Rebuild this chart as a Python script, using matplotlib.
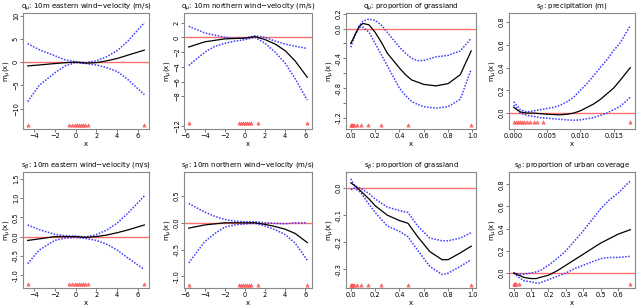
import matplotlib.pyplot as plt

# panel titles
titles = [
    r"q$_\mu$: 10m eastern wind$-$velocity (m/s)",
    r"q$_\mu$: 10m northern wind$-$velocity (m/s)",
    r"q$_\mu$: proportion of grassland",
    r"s$_\beta$: precipitation (m)",
    r"s$_\beta$: 10m eastern wind$-$velocity (m/s)",
    r"s$_\beta$: 10m northern wind$-$velocity (m/s)",
    r"s$_\beta$: proportion of grassland",
    r"s$_\beta$: proportion of urban coverage",
]

# ---- x grids ----
x_east = [-4.6, -3.5, -2, -1, 0, 1, 2, 3, 4, 5, 6.6]
x_north = [-5.6, -4, -3, -2, -1, 0, 1, 2, 3, 4, 5, 6.2]
x_grass = [0, 0.03, 0.07, 0.1, 0.15, 0.2, 0.25, 0.3, 0.4, 0.45, 0.5, 0.55, 0.6, 0.7, 0.8, 0.9, 0.99]
x_prec = [0, 0.001, 0.002, 0.003, 0.004, 0.005, 0.006, 0.007, 0.008, 0.009, 0.010, 0.011,
          0.012, 0.013, 0.014, 0.015, 0.016, 0.0175]
x_grass2 = [0, 0.03, 0.08, 0.15, 0.2, 0.3, 0.4, 0.47, 0.55, 0.65, 0.75, 0.8, 0.9, 0.99]
x_urban = [0, 0.03, 0.06, 0.1, 0.13, 0.15, 0.2, 0.25, 0.3, 0.35, 0.4, 0.45, 0.5, 0.55, 0.6, 0.67]

# ---- curves: mean, upper, lower ----
q_east_m = [-0.8, -0.6, -0.3, -0.1, 0.0, -0.2, -0.1, 0.3, 0.8, 1.5, 2.6]
q_east_u = [4.0, 2.7, 1.4, 0.5, 0.1, -0.1, 0.3, 1.2, 2.5, 4.5, 8.5]
q_east_l = [-8.5, -5.0, -2.3, -0.8, -0.1, -0.3, -0.6, -1.2, -2.0, -3.7, -7.0]

q_north_m = [-1.3, -0.6, -0.4, -0.2, -0.15, -0.1, 0.1, -0.3, -0.9, -1.8, -3.2, -5.4]
q_north_u = [1.5, 0.6, 0.3, 0.0, -0.1, -0.1, 0.2, 0.0, -0.5, -0.9, -1.2, -1.5]
q_north_l = [-3.8, -2.0, -1.2, -0.8, -0.5, -0.3, 0.0, -0.8, -2.0, -3.5, -5.6, -8.5]

q_grass_m = [-0.2, -0.1, 0.03, 0.07, 0.05, -0.05, -0.18, -0.33, -0.53, -0.62, -0.69, -0.72,
             -0.75, -0.77, -0.74, -0.62, -0.3]
q_grass_u = [-0.25, -0.1, 0.04, 0.1, 0.13, 0.11, 0.05, -0.05, -0.25, -0.33, -0.4, -0.43,
             -0.43, -0.38, -0.36, -0.3, -0.13]
q_grass_l = [-0.2, -0.1, 0.02, 0.02, -0.05, -0.2, -0.35, -0.5, -0.8, -0.9, -0.98, -1.02,
             -1.05, -1.07, -1.05, -0.95, -0.55]

s_prec_m = [0.05, 0.01, 0.0, 0.0, -0.005, -0.01, -0.013, -0.015, -0.01, 0.0, 0.02, 0.05,
            0.08, 0.12, 0.17, 0.22, 0.29, 0.4]
s_prec_u = [0.1, 0.03, 0.01, 0.02, 0.03, 0.04, 0.05, 0.07, 0.1, 0.14, 0.2, 0.26,
            0.33, 0.4, 0.47, 0.55, 0.62, 0.77]
s_prec_l = [0.07, 0.0, -0.02, -0.03, -0.04, -0.045, -0.05, -0.055, -0.06, -0.063, -0.06, -0.05,
            -0.04, -0.02, 0.0, 0.03, 0.06, 0.14]

s_east_m = [-0.1, -0.06, 0.0, 0.0, 0.0, -0.02, 0.0, 0.04, 0.1, 0.17, 0.3]
s_east_u = [0.3, 0.18, 0.06, 0.02, 0.01, -0.01, 0.05, 0.17, 0.35, 0.6, 1.05]
s_east_l = [-0.7, -0.35, -0.1, -0.04, -0.02, -0.05, -0.1, -0.2, -0.35, -0.55, -0.85]

s_north_m = [-0.1, -0.04, -0.02, 0.0, 0.0, 0.0, 0.0, -0.03, -0.07, -0.12, -0.2, -0.37]
s_north_u = [0.36, 0.2, 0.12, 0.06, 0.03, 0.02, 0.02, 0.0, -0.01, -0.02, 0.0, 0.0]
s_north_l = [-0.75, -0.35, -0.2, -0.08, -0.04, -0.02, -0.01, -0.06, -0.13, -0.22, -0.38, -0.7]

s_grass_m = [0.02, 0.01, -0.01, -0.04, -0.065, -0.1, -0.12, -0.13, -0.18, -0.235, -0.265,
             -0.265, -0.24, -0.215]
s_grass_u = [0.035, 0.01, 0.0, -0.02, -0.04, -0.07, -0.083, -0.09, -0.14, -0.185, -0.195,
             -0.195, -0.185, -0.165]
s_grass_l = [-0.005, 0.0, -0.015, -0.06, -0.09, -0.14, -0.16, -0.18, -0.23, -0.29, -0.32,
             -0.315, -0.29, -0.265]

s_urban_m = [0.0, -0.02, -0.04, -0.05, -0.05, -0.04, -0.02, 0.02, 0.07, 0.12, 0.17, 0.22,
             0.27, 0.31, 0.35, 0.39]
s_urban_u = [0.0, -0.01, -0.01, 0.0, 0.01, 0.02, 0.07, 0.13, 0.2, 0.29, 0.38, 0.48,
             0.58, 0.66, 0.72, 0.83]
s_urban_l = [0.0, -0.04, -0.07, -0.08, -0.09, -0.09, -0.06, -0.03, 0.0, 0.04, 0.07, 0.1,
             0.13, 0.14, 0.14, 0.15]

# ---- rug (observed covariate values) ----
rug_east = [-4.6, -0.6, -0.3, -0.1, 0.1, 0.3, 0.5, 0.7, 0.9, 1.2, 6.6]
rug_north = [-5.6, -0.6, -0.4, -0.2, 0.0, 0.2, 0.4, 0.6, 1.3, 6.2]
rug_grass = [0, 0.005, 0.01, 0.02, 0.03, 0.05, 0.08, 0.14, 0.25, 0.47, 0.99]
rug_prec = [0, 0.0003, 0.0006, 0.0009, 0.0012, 0.0016, 0.002, 0.0025, 0.003, 0.0035, 0.0044, 0.0175]
rug_urban = [0, 0.003, 0.006, 0.01, 0.015, 0.03, 0.67]

panels = [
    (x_east, q_east_m, q_east_u, q_east_l, rug_east, -13.5, (-14.4, 10.6), [-10, -5, 0, 5, 10], None, [-4, -2, 0, 2, 4, 6], None),
    (x_north, q_north_m, q_north_u, q_north_l, rug_north, -11.6, (-12.4, 3.3), [2, 0, -2, -4, -6, -8, -12], None, [-6, -4, -2, 0, 2, 4, 6], None),
    (x_grass, q_grass_m, q_grass_u, q_grass_l, rug_grass, -1.29, (-1.35, 0.21), [0.2, 0.0, -0.2, -0.4, -0.6, -0.8, -1.0, -1.2],
     ["0.2", "0.0", "", "-0.4", "", "-0.8", "", "-1.2"], [0, 0.2, 0.4, 0.6, 0.8, 1.0], ["0.0", "0.2", "0.4", "0.6", "0.8", "1.0"]),
    (x_prec, s_prec_m, s_prec_u, s_prec_l, rug_prec, -0.075, (-0.14, 0.88), [0, 0.2, 0.4, 0.6, 0.8], ["0.0", "0.2", "0.4", "0.6", "0.8"],
     [0, 0.005, 0.010, 0.015], ["0.000", "0.005", "0.010", "0.015"]),
    (x_east, s_east_m, s_east_u, s_east_l, rug_east, -1.22, (-1.33, 1.67), [-1.0, -0.5, 0.0, 0.5, 1.0, 1.5], ["-1.0", "-0.5", "0.0", "0.5", "1.0", "1.5"], [-4, -2, 0, 2, 4, 6], None),
    (x_north, s_north_m, s_north_u, s_north_l, rug_north, -1.16, (-1.22, 0.95), [0.5, 0.0, -0.5, -1.0], ["0.5", "0.0", "-0.5", "-1.0"], [-6, -4, -2, 0, 2, 4, 6], None),
    (x_grass2, s_grass_m, s_grass_u, s_grass_l, rug_grass, -0.358, (-0.37, 0.06), [0.0, -0.1, -0.2, -0.3], ["0.0", "-0.1", "-0.2", "-0.3"],
     [0, 0.2, 0.4, 0.6, 0.8, 1.0], ["0.0", "0.2", "0.4", "0.6", "0.8", "1.0"]),
    (x_urban, s_urban_m, s_urban_u, s_urban_l, rug_urban, -0.1, (-0.135, 0.91), [0, 0.2, 0.4, 0.6, 0.8], ["0.0", "0.2", "0.4", "0.6", "0.8"],
     [0, 0.1, 0.2, 0.3, 0.4, 0.5, 0.6], ["0.0", "0.1", "0.2", "0.3", "0.4", "0.5", "0.6"]),
]

W, H = 640, 307
lefts = [23, 184, 346, 509]
rights = [149, 312, 476, 635]
tops = [13, 172]
bottoms = [129, 288]

fig = plt.figure(figsize=(6.4, 3.07), dpi=100)

for i, (x, m, up, lo, rug, rug_y, ylim, yt, ytl, xt, xtl) in enumerate(panels):
    r, c = divmod(i, 4)
    ax = fig.add_axes([lefts[c] / W, 1 - bottoms[r] / H,
                       (rights[c] - lefts[c]) / W, (bottoms[r] - tops[r]) / H])
    ax.axhline(0, color="#ff7070", lw=1.0, zorder=1)
    ax.plot(x, up, color="#3a3aff", lw=1.1, ls=(0, (1.0, 1.0)), zorder=2)
    ax.plot(x, lo, color="#3a3aff", lw=1.1, ls=(0, (1.0, 1.0)), zorder=2)
    ax.plot(x, m, color="black", lw=0.9, zorder=3)
    ax.plot(rug, [rug_y] * len(rug), ls="none", marker="^", ms=2.3,
            mfc="#ff8080", mec="#ff4040", mew=0.4, zorder=4)

    span = max(x) - min(x)
    ax.set_xlim(min(x) - 0.04 * span, max(x) + 0.04 * span)
    ax.set_ylim(*ylim)
    ax.set_yticks(yt)
    if ytl is not None:
        ax.set_yticklabels(ytl)
    ax.set_xticks(xt)
    if xtl is not None:
        ax.set_xticklabels(xtl)
    for lab in ax.get_yticklabels():
        lab.set_rotation(90)
        lab.set_va("center")
    ax.tick_params(labelsize=4.8, length=2, width=0.5, pad=1, color="#444444")
    for s in ax.spines.values():
        s.set_color("#888888")
        s.set_linewidth(0.8)
    ax.set_title(titles[i], fontsize=5, pad=3)
    ax.set_xlabel("x", fontsize=5, labelpad=1.5)
    ax.set_ylabel(r"m$_\mu$(x)", fontsize=5, labelpad=0)

plt.savefig("out.png", dpi=100)
plt.close()
